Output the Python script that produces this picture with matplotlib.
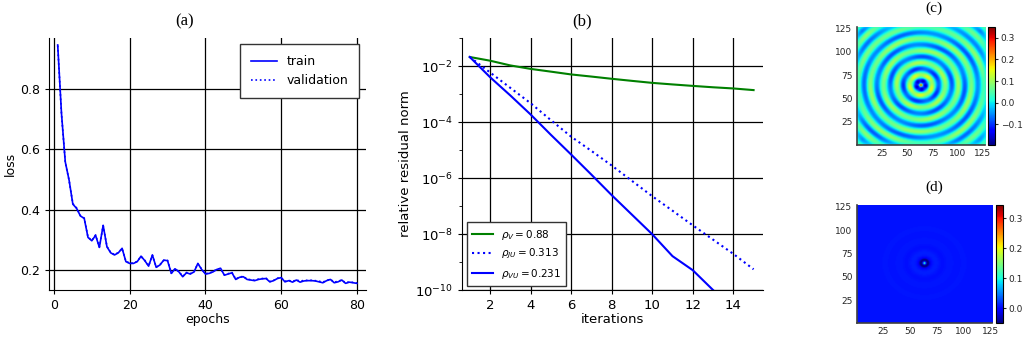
import numpy as np
import matplotlib
matplotlib.use("Agg")
import matplotlib.pyplot as plt
from matplotlib.ticker import FixedLocator, NullFormatter

# ---- (a) training curves ----
epochs = np.arange(1, 81)
loss_train = [0.945, 0.718, 0.558, 0.498, 0.418, 0.404, 0.379, 0.371, 0.308, 0.297,
              0.315, 0.275, 0.348, 0.277, 0.257, 0.250, 0.257, 0.272, 0.228, 0.222,
              0.222, 0.228, 0.246, 0.231, 0.213, 0.250, 0.209, 0.217, 0.233, 0.231,
              0.189, 0.204, 0.194, 0.178, 0.191, 0.187, 0.194, 0.222, 0.202, 0.187,
              0.189, 0.194, 0.202, 0.206, 0.183, 0.187, 0.191, 0.169, 0.176, 0.178,
              0.169, 0.167, 0.165, 0.169, 0.171, 0.172, 0.161, 0.165, 0.172, 0.175,
              0.161, 0.165, 0.160, 0.167, 0.160, 0.164, 0.165, 0.165, 0.164, 0.161,
              0.158, 0.165, 0.169, 0.158, 0.161, 0.167, 0.156, 0.160, 0.158, 0.156]
loss_val = [0.943, 0.716, 0.556, 0.497, 0.420, 0.405, 0.380, 0.372, 0.309, 0.298,
            0.316, 0.276, 0.347, 0.278, 0.258, 0.251, 0.258, 0.271, 0.229, 0.223,
            0.223, 0.229, 0.245, 0.232, 0.214, 0.249, 0.210, 0.218, 0.232, 0.232,
            0.190, 0.205, 0.195, 0.179, 0.192, 0.188, 0.195, 0.221, 0.203, 0.188,
            0.190, 0.195, 0.203, 0.205, 0.184, 0.188, 0.192, 0.170, 0.177, 0.179,
            0.170, 0.168, 0.166, 0.170, 0.172, 0.173, 0.162, 0.166, 0.173, 0.174,
            0.163, 0.166, 0.162, 0.168, 0.163, 0.166, 0.166, 0.166, 0.165, 0.163,
            0.160, 0.166, 0.169, 0.160, 0.163, 0.167, 0.158, 0.161, 0.159, 0.157]

# ---- (b) convergence of the residual ----
iters = np.arange(1, 16)
res_V = [2.1e-2, 1.55e-2, 1.05e-2, 7.9e-3, 6.3e-3, 5.0e-3, 4.2e-3, 3.5e-3,
         2.95e-3, 2.5e-3, 2.2e-3, 1.95e-3, 1.74e-3, 1.58e-3, 1.38e-3]
res_JU = [2.1e-2, 5.9e-3, 1.66e-3, 4.7e-4, 1.17e-4, 3.0e-5, 9.3e-6, 2.8e-6,
          7.9e-7, 2.24e-7, 6.8e-8, 2.04e-8, 6.3e-9, 1.95e-9, 5.5e-10]
res_VU = [2.1e-2, 4.0e-3, 8.9e-4, 1.86e-4, 3.5e-5, 6.9e-6, 1.32e-6, 2.45e-7,
          4.9e-8, 9.8e-9, 1.62e-9, 5.1e-10, 1.0e-10, 2.0e-11, 4.0e-12]
labels_b = [r"$\rho_V = 0.88$", r"$\rho_{JU} = 0.313$", r"$\rho_{VU} = 0.231$"]

# ---- (c), (d) fields on a 128 x 128 grid ----
n_grid = 128
src_x, src_y = 63.0, 64.0
wavelength = 13.0
ring_offset = 4.6

xs = np.arange(n_grid)
X, Y = np.meshgrid(xs, xs)
R = np.hypot(X - src_x, Y - src_y)
TH = np.arctan2(Y - src_y, X - src_x)
edge = np.minimum.reduce([X, Y, n_grid - 1 - X, n_grid - 1 - Y])
taper = 1 - 0.7 * np.exp(-edge / 4.0)

amp = (0.075 + 0.12 * np.exp(-R / 10.0)) * (1 + 0.18 * np.cos(5 * TH + R / 6))
field_c = (0.38 * np.exp(-(R / 1.0) ** 2)
           - amp * np.cos(2 * np.pi * (R - ring_offset) / wavelength) * taper
           + 0.008)

field_d = (0.006 + 0.11 * np.exp(-(R / 1.2) ** 2)
           - 0.05 * np.exp(-((R - 3.3) / 1.7) ** 2)
           - 0.012 * np.cos(2 * np.pi * (R - ring_offset) / wavelength) * np.exp(-R / 10.0))

fig = plt.figure(figsize=(10.25, 3.45), dpi=100)
serif = "Liberation Serif"


def style_axes(ax, size):
    for s in ["top", "right"]:
        ax.spines[s].set_visible(False)
    ax.tick_params(direction="out", length=3, labelsize=size, colors="k")
    ax.grid(True, color="k", linewidth=0.9)
    ax.set_axisbelow(True)


# (a)
ax_a = fig.add_axes([0.0478, 0.1594, 0.3093, 0.7304])
ax_a.plot(epochs, loss_train, color="b", lw=1.2, label="train")
ax_a.plot(epochs, loss_val, color="b", lw=1.2, ls=":", label="validation")
ax_a.set_xlim(-1.3, 82.4)
ax_a.set_ylim(0.134, 0.968)
ax_a.set_xticks([0, 20, 40, 60, 80])
ax_a.set_yticks([0.2, 0.4, 0.6, 0.8])
style_axes(ax_a, 9)
ax_a.set_xlabel("epochs", fontsize=9, labelpad=1)
ax_a.set_ylabel("loss", fontsize=9, labelpad=2)
leg = ax_a.legend(loc="upper right", bbox_to_anchor=(0.979, 0.975), fontsize=9,
                  fancybox=False, framealpha=1, edgecolor="0.2", borderaxespad=0,
                  borderpad=0.85, handlelength=2.1)
leg.get_frame().set_linewidth(1.0)

# (b)
ax_b = fig.add_axes([0.4504, 0.1594, 0.2937, 0.7304])
ax_b.semilogy(iters, res_V, color="g", lw=1.5, label=labels_b[0])
ax_b.semilogy(iters, res_JU, color="b", lw=1.5, ls=":", label=labels_b[1])
ax_b.semilogy(iters, res_VU, color="b", lw=1.5, label=labels_b[2])
ax_b.set_xlim(0.6, 15.45)
ax_b.set_ylim(1e-10, 1e-1)
ax_b.set_xticks([2, 4, 6, 8, 10, 12, 14])
ax_b.yaxis.set_major_locator(FixedLocator([1e-10, 1e-8, 1e-6, 1e-4, 1e-2]))
ax_b.yaxis.set_minor_locator(FixedLocator([1e-9, 1e-7, 1e-5, 1e-3, 1e-1]))
ax_b.yaxis.set_minor_formatter(NullFormatter())
style_axes(ax_b, 9.5)
ax_b.tick_params(which="minor", direction="out", length=2)
ax_b.set_xlabel("iterations", fontsize=9.5, labelpad=1)
ax_b.set_ylabel("relative residual norm", fontsize=9.5, labelpad=2)
leg = ax_b.legend(loc="lower left", bbox_to_anchor=(0.017, 0.017), fontsize=7.5,
                  fancybox=False, framealpha=1, edgecolor="0.2", borderaxespad=0,
                  borderpad=0.5)
leg.get_frame().set_linewidth(1.0)


def field_panel(rect_img, rect_cb, data, vmin, vmax, cticks, clabels):
    ax = fig.add_axes(rect_img)
    im = ax.imshow(data, origin="lower", cmap="jet", vmin=vmin, vmax=vmax,
                   extent=(0, n_grid - 1, 0, n_grid - 1), aspect="auto",
                   interpolation="bilinear")
    ax.set_xticks([25, 50, 75, 100, 125])
    ax.set_yticks([25, 50, 75, 100, 125])
    ax.tick_params(length=0, labelsize=6.5, colors="0.15", pad=3)
    for s in ["top", "right"]:
        ax.spines[s].set_visible(False)
    for s in ["left", "bottom"]:
        ax.spines[s].set_color("0.25")
        ax.spines[s].set_linewidth(1.2)
    cax = fig.add_axes(rect_cb)
    cb = fig.colorbar(im, cax=cax)
    cb.set_ticks(cticks)
    cb.set_ticklabels(clabels)
    cax.tick_params(length=2, labelsize=6.5, colors="0.15", pad=2)
    cb.outline.set_linewidth(0.8)
    return ax


field_panel([0.8358, 0.5797, 0.1252, 0.3429], [0.9636, 0.5797, 0.0071, 0.3429],
            field_c, -0.195, 0.351, [-0.1, 0.0, 0.1, 0.2, 0.3],
            ["\u22120.1", "0.0", "0.1", "0.2", "0.3"])
field_panel([0.8358, 0.0629, 0.1323, 0.3429], [0.9714, 0.0629, 0.0074, 0.3429],
            field_d, -0.051, 0.344, [0.0, 0.1, 0.2, 0.3],
            ["0.0", "0.1", "0.2", "0.3"])

# panel captions
fig.text(185 / 1025, 1 - 21 / 345, "(a)", family=serif, fontsize=12, ha="center", va="center")
fig.text(582 / 1025, 1 - 21 / 345, "(b)", family=serif, fontsize=12, ha="center", va="center")
fig.text(934 / 1025, 1 - 8 / 345, "(c)", family=serif, fontsize=11, ha="center", va="center")
fig.text(934 / 1025, 1 - 187 / 345, "(d)", family=serif, fontsize=11, ha="center", va="center")

fig.savefig("out.png", dpi=100)
plt.close(fig)
